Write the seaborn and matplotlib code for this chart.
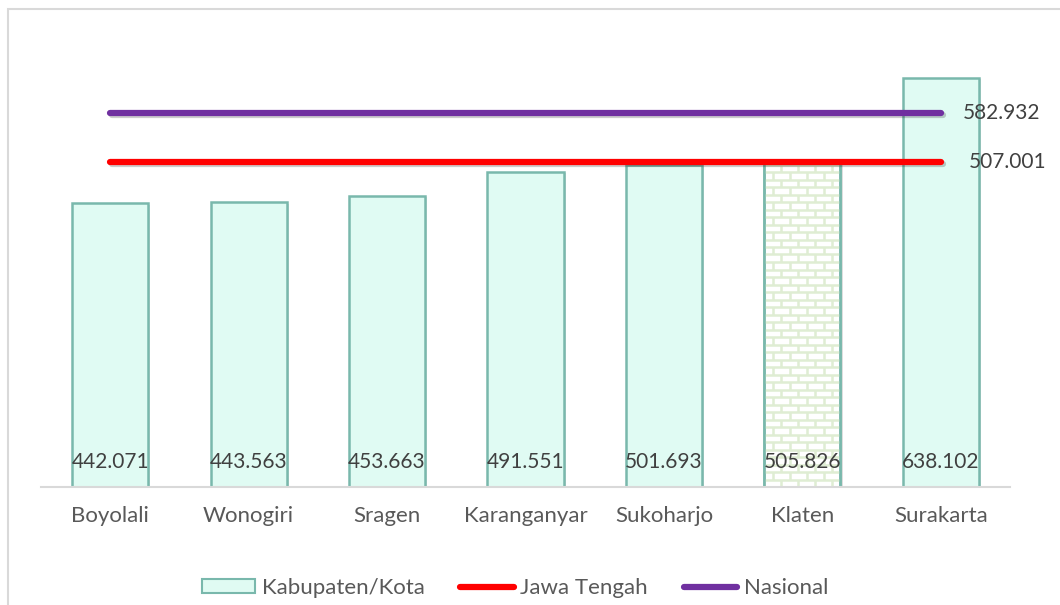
import matplotlib
matplotlib.use('Agg')
import matplotlib.pyplot as plt
import matplotlib.patheffects as pe
from matplotlib.patches import Rectangle, Patch
from matplotlib.lines import Line2D
from matplotlib.collections import LineCollection
import numpy as np
import pandas as pd
import seaborn as sns

# Data
wilayah = ['Boyolali', 'Wonogiri', 'Sragen', 'Karanganyar', 'Sukoharjo', 'Klaten', 'Surakarta']
nilai = [442.071, 443.563, 453.663, 491.551, 501.693, 505.826, 638.102]
jawa_tengah = [507.001] * 7
nasional = [582.932] * 7

df = pd.DataFrame({'wilayah': wilayah, 'nilai': nilai})

sns.set_style('white')
plt.rcParams['font.family'] = ['Lato', 'DejaVu Sans']

fill = '#e0fbf3'
edge = '#79b8ac'
txt = '#595959'
fs = 15

fig = plt.figure(figsize=(10.6, 6.05), dpi=100)
ax = fig.add_axes([41 / 1060, 118 / 605, 969 / 1060, 449 / 605])

sns.barplot(data=df, x='wilayah', y='nilai', color=fill, edgecolor=edge,
            linewidth=1.8, width=0.55, saturation=1, ax=ax)

ax.set_ylim(0, 700)
ax.set_xlim(-0.5, len(wilayah) - 0.5)

shadow = [pe.SimplePatchShadow(offset=(1.5, -1), alpha=0.18), pe.Normal()]
for i, p in enumerate(ax.patches):
    p.set_path_effects(shadow)
    if wilayah[i] == 'Klaten':
        # brick pattern
        p.set_facecolor('white')
        x0, w, h = p.get_x(), p.get_width(), p.get_height()
        row = 700 / 449 * 7.5      # ~7.5 px per brick row
        bw = 7 / 969 * 17          # ~17 px per brick
        segs = []
        ys = np.arange(0, h + row, row)
        for k, y in enumerate(ys):
            segs.append([(x0, y), (x0 + w, y)])
            off = 0 if k % 2 == 0 else bw / 2
            for xx in np.arange(x0 - bw + off, x0 + w + bw, bw):
                segs.append([(xx, y), (xx, y + row)])
        lc = LineCollection(segs, colors='#dfedd3', linewidths=1.8, zorder=p.get_zorder() + 0.1)
        ax.add_collection(lc)
        lc.set_clip_path(p)
        border = Rectangle((x0, 0), w, h, fill=False, edgecolor=edge, linewidth=1.8,
                           zorder=p.get_zorder() + 0.2)
        ax.add_patch(border)

# value labels at bottom inside bars
for i, v in enumerate(nilai):
    ax.annotate(f'{v:.3f}', (i, 0), xytext=(0, 11), textcoords='offset points',
                ha='center', va='bottom', fontsize=fs, color='#404040', zorder=6)

line_shadow = [pe.SimpleLineShadow(offset=(1.5, -1.5), alpha=0.2), pe.Normal()]
ax.plot(range(len(wilayah)), nasional, color='#7030a0', lw=4.5,
        solid_capstyle='round', path_effects=line_shadow, zorder=5)
ax.plot(range(len(wilayah)), jawa_tengah, color='#ff0000', lw=4.5,
        solid_capstyle='round', path_effects=line_shadow, zorder=5)

ax.annotate(f'{nasional[-1]:.3f}', (len(wilayah) - 1, nasional[-1]), xytext=(16, 0),
            textcoords='offset points', ha='left', va='center', fontsize=fs, color='#404040')
ax.annotate(f'{jawa_tengah[-1]:.3f}', (len(wilayah) - 1, jawa_tengah[-1]), xytext=(20, 0),
            textcoords='offset points', ha='left', va='center', fontsize=fs, color='#404040')

ax.set_xlabel('')
ax.set_ylabel('')
ax.set_yticks([])
ax.tick_params(axis='x', length=0, pad=14, labelsize=16, labelcolor=txt)
for s in ['top', 'right', 'left']:
    ax.spines[s].set_visible(False)
ax.spines['bottom'].set_color('#d9d9d9')
ax.spines['bottom'].set_linewidth(1.5)

# legend
handles = [Patch(facecolor=fill, edgecolor=edge, linewidth=1.5, label='Kabupaten/Kota'),
           Line2D([0], [0], color='#ff0000', lw=4.5, solid_capstyle='round', label='Jawa Tengah'),
           Line2D([0], [0], color='#7030a0', lw=4.5, solid_capstyle='round', label='Nasional')]
leg = fig.legend(handles=handles, loc='center', bbox_to_anchor=(515 / 1060, 1 - 588 / 605),
                 ncol=3, frameon=False, fontsize=16, handlelength=2.4, handleheight=0.55,
                 handletextpad=0.3, columnspacing=1.6, labelcolor=txt)

# chart area border (cropped at right and bottom)
fig.patches.append(Rectangle((8 / 1060, -0.1), 1.2, 1 - 9 / 605 + 0.1,
                             transform=fig.transFigure, fill=False,
                             edgecolor='#d9d9d9', linewidth=1.5))

fig.savefig('out.png', dpi=100)
